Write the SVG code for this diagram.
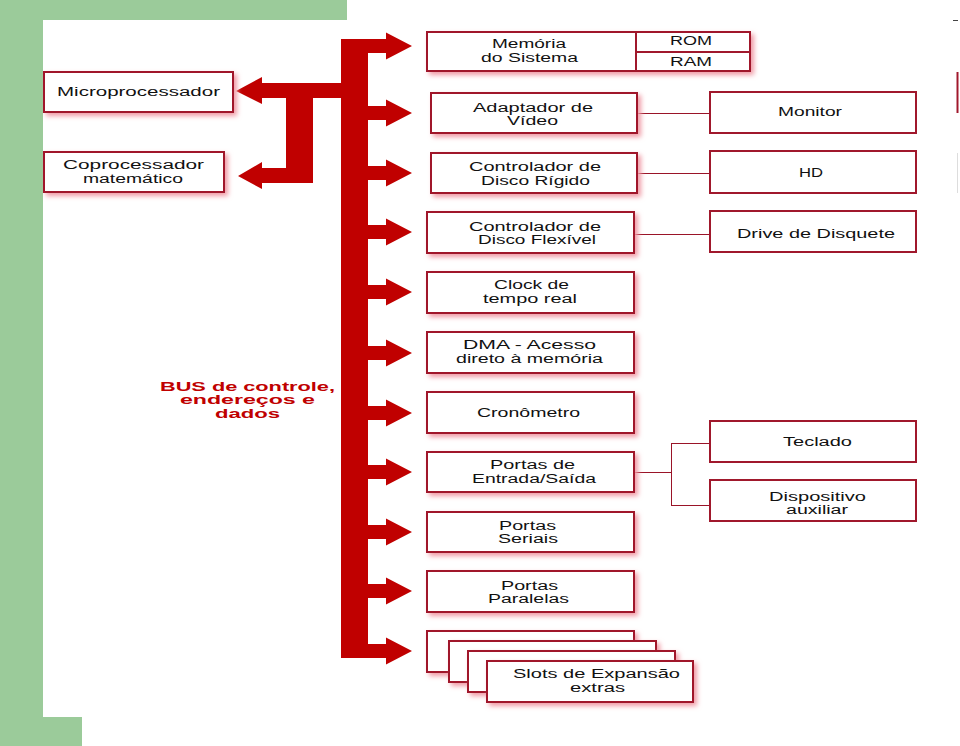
<svg xmlns="http://www.w3.org/2000/svg" xmlns:xlink="http://www.w3.org/1999/xlink" width="960" height="746" viewBox="0 0 960 746">
  <defs>
    <style>
      .box { fill: #ffffff; stroke: #A0182C; stroke-width: 2; }
      .glow { filter: url(#glow); }
      .t { font-family: "Liberation Sans", Arial, sans-serif; font-size: 12px; fill: #111111; }
      .bus { font-family: "Liberation Sans", Arial, sans-serif; font-size: 12px; font-weight: bold; fill: #C00000; }
      .wire { stroke: #9A1428; stroke-width: 1; fill: none; }
      .red { fill: #C00000; }
    </style>
    <filter id="glow" x="-10%" y="-25%" width="125%" height="160%">
      <feGaussianBlur in="SourceAlpha" stdDeviation="2.5"/>
      <feOffset dx="3" dy="3" result="b"/>
      <feFlood flood-color="#F09AA5" flood-opacity="1"/>
      <feComposite in2="b" operator="in" result="s"/>
      <feMerge><feMergeNode in="s"/><feMergeNode in="SourceGraphic"/></feMerge>
    </filter>
    <path id="rarrow" d="M0,-7 H18 V-13.5 L44,0 L18,13.5 V7 H0 Z"/>
  </defs>

  <!-- background -->
  <rect x="0" y="0" width="960" height="746" fill="#ffffff"/>
  <circle cx="42" cy="231" r="17" fill="#003A75"/>
  <rect x="0" y="0" width="347" height="20" fill="#9BCB9A"/>
  <rect x="0" y="0" width="43" height="746" fill="#9BCB9A"/>
  <rect x="0" y="717" width="82" height="29" fill="#9BCB9A"/>
  <rect x="43" y="20" width="917" height="697" fill="#ffffff"/>
  <line x1="953" y1="20.5" x2="958" y2="20.5" stroke="#444" stroke-width="1"/>
  <line x1="957.5" y1="72" x2="957.5" y2="113" stroke="#A0182C" stroke-width="2"/>
  <line x1="957.5" y1="153" x2="957.5" y2="193" stroke="#dddddd" stroke-width="1"/>

  <!-- connectors: bus and wires -->
  <g id="connectors">
    <g class="red">
      <rect x="341" y="39" width="27" height="619"/>
      <use xlink:href="#rarrow" href="#rarrow" x="368" y="46"/>
      <use xlink:href="#rarrow" href="#rarrow" x="368" y="113"/>
      <use xlink:href="#rarrow" href="#rarrow" x="368" y="173"/>
      <use xlink:href="#rarrow" href="#rarrow" x="368" y="232"/>
      <use xlink:href="#rarrow" href="#rarrow" x="368" y="292"/>
      <use xlink:href="#rarrow" href="#rarrow" x="368" y="353"/>
      <use xlink:href="#rarrow" href="#rarrow" x="368" y="413"/>
      <use xlink:href="#rarrow" href="#rarrow" x="368" y="472"/>
      <use xlink:href="#rarrow" href="#rarrow" x="368" y="532"/>
      <use xlink:href="#rarrow" href="#rarrow" x="368" y="591"/>
      <use xlink:href="#rarrow" href="#rarrow" x="368" y="651"/>
      <path d="M342,83 V98 H313 V183 H262 V189 L238,176 L262,162 V168 H286 V98 H262 V104 L236,91 L262,77 V83 Z"/>
    </g>
    <line class="wire" x1="637" y1="113.5" x2="710" y2="113.5"/>
    <line class="wire" x1="637" y1="173.5" x2="710" y2="173.5"/>
    <line class="wire" x1="634" y1="234.5" x2="710" y2="234.5"/>
    <line class="wire" x1="634" y1="472.5" x2="671.5" y2="472.5"/>
    <line class="wire" x1="671.5" y1="443" x2="671.5" y2="506"/>
    <line class="wire" x1="671" y1="443.5" x2="710" y2="443.5"/>
    <line class="wire" x1="671" y1="505.5" x2="710" y2="505.5"/>
  </g>

  <g id="bus-label">
    <text class="bus" x="160" y="391" textLength="175" lengthAdjust="spacingAndGlyphs">BUS de controle,</text>
    <text class="bus" x="180" y="404" textLength="135" lengthAdjust="spacingAndGlyphs">endereços e</text>
    <text class="bus" x="215" y="418" textLength="65" lengthAdjust="spacingAndGlyphs">dados</text>
  </g>

  <g id="microprocessador">
    <rect class="box glow" x="44" y="72" width="189" height="40"/>
    <text class="t" x="57" y="96" textLength="163" lengthAdjust="spacingAndGlyphs">Microprocessador</text>
  </g>
  <g id="coprocessador">
    <rect class="box glow" x="44" y="152" width="180" height="40"/>
    <text class="t" x="63" y="169" textLength="141" lengthAdjust="spacingAndGlyphs">Coprocessador</text>
    <text class="t" x="83" y="183" textLength="100" lengthAdjust="spacingAndGlyphs">matemático</text>
  </g>

  <g id="memoria">
    <rect class="box glow" x="427" y="32" width="323" height="39"/>
    <line x1="636" y1="32" x2="636" y2="71" stroke="#A0182C" stroke-width="2"/>
    <line x1="636" y1="52" x2="750" y2="52" stroke="#A0182C" stroke-width="2"/>
    <text class="t" x="492" y="48" textLength="74" lengthAdjust="spacingAndGlyphs">Memória</text>
    <text class="t" x="481" y="62" textLength="97" lengthAdjust="spacingAndGlyphs">do Sistema</text>
    <text class="t" x="670" y="45" textLength="42" lengthAdjust="spacingAndGlyphs">ROM</text>
    <text class="t" x="670" y="66" textLength="42" lengthAdjust="spacingAndGlyphs">RAM</text>
  </g>

  <g id="adaptador">
    <rect class="box glow" x="431" y="93" width="206" height="40"/>
    <text class="t" x="473" y="112" textLength="120" lengthAdjust="spacingAndGlyphs">Adaptador de</text>
    <text class="t" x="507" y="125" textLength="51" lengthAdjust="spacingAndGlyphs">Vídeo</text>
  </g>
  <g id="monitor">
    <rect class="box" x="710" y="92" width="206" height="41"/>
    <text class="t" x="778" y="116" textLength="64" lengthAdjust="spacingAndGlyphs">Monitor</text>
  </g>

  <g id="disco-rigido">
    <rect class="box glow" x="431" y="153" width="206" height="40"/>
    <text class="t" x="469" y="171" textLength="132" lengthAdjust="spacingAndGlyphs">Controlador de</text>
    <text class="t" x="481" y="185" textLength="109" lengthAdjust="spacingAndGlyphs">Disco Rígido</text>
  </g>
  <g id="hd">
    <rect class="box" x="710" y="151" width="206" height="42"/>
    <text class="t" x="799" y="177" textLength="24" lengthAdjust="spacingAndGlyphs">HD</text>
  </g>

  <g id="disco-flexivel">
    <rect class="box glow" x="427" y="212" width="207" height="41"/>
    <text class="t" x="469" y="231" textLength="132" lengthAdjust="spacingAndGlyphs">Controlador de</text>
    <text class="t" x="478" y="244" textLength="118" lengthAdjust="spacingAndGlyphs">Disco Flexível</text>
  </g>
  <g id="drive">
    <rect class="box" x="710" y="211" width="206" height="41"/>
    <text class="t" x="737" y="238" textLength="158" lengthAdjust="spacingAndGlyphs">Drive de Disquete</text>
  </g>

  <g id="clock">
    <rect class="box glow" x="427" y="272" width="207" height="41"/>
    <text class="t" x="494" y="289" textLength="75" lengthAdjust="spacingAndGlyphs">Clock de</text>
    <text class="t" x="483" y="303" textLength="94" lengthAdjust="spacingAndGlyphs">tempo real</text>
  </g>

  <g id="dma">
    <rect class="box glow" x="427" y="332" width="207" height="41"/>
    <text class="t" x="463" y="349" textLength="133" lengthAdjust="spacingAndGlyphs">DMA - Acesso</text>
    <text class="t" x="456" y="363" textLength="147" lengthAdjust="spacingAndGlyphs">direto à memória</text>
  </g>

  <g id="cronometro">
    <rect class="box glow" x="427" y="392" width="207" height="41"/>
    <text class="t" x="477" y="417" textLength="103" lengthAdjust="spacingAndGlyphs">Cronômetro</text>
  </g>

  <g id="portas-es">
    <rect class="box glow" x="427" y="452" width="207" height="40"/>
    <text class="t" x="490" y="469" textLength="85" lengthAdjust="spacingAndGlyphs">Portas de</text>
    <text class="t" x="472" y="483" textLength="124" lengthAdjust="spacingAndGlyphs">Entrada/Saída</text>
  </g>
  <g id="teclado">
    <rect class="box" x="710" y="421" width="206" height="41"/>
    <text class="t" x="783" y="446" textLength="69" lengthAdjust="spacingAndGlyphs">Teclado</text>
  </g>
  <g id="dispositivo">
    <rect class="box" x="710" y="480" width="206" height="41"/>
    <text class="t" x="769" y="501" textLength="97" lengthAdjust="spacingAndGlyphs">Dispositivo</text>
    <text class="t" x="786" y="514" textLength="62" lengthAdjust="spacingAndGlyphs">auxiliar</text>
  </g>

  <g id="seriais">
    <rect class="box glow" x="427" y="512" width="207" height="40"/>
    <text class="t" x="499" y="530" textLength="57" lengthAdjust="spacingAndGlyphs">Portas</text>
    <text class="t" x="498" y="543" textLength="60" lengthAdjust="spacingAndGlyphs">Seriais</text>
  </g>

  <g id="paralelas">
    <rect class="box glow" x="427" y="571" width="207" height="41"/>
    <text class="t" x="501" y="590" textLength="57" lengthAdjust="spacingAndGlyphs">Portas</text>
    <text class="t" x="488" y="603" textLength="81" lengthAdjust="spacingAndGlyphs">Paralelas</text>
  </g>

  <g id="slots">
    <rect class="box glow" x="427" y="631" width="207" height="41"/>
    <rect class="box glow" x="449" y="641" width="207" height="41"/>
    <rect class="box glow" x="468" y="651" width="207" height="41"/>
    <rect class="box glow" x="487" y="661" width="206" height="41"/>
    <text class="t" x="513" y="678" textLength="167" lengthAdjust="spacingAndGlyphs">Slots de Expansão</text>
    <text class="t" x="570" y="692" textLength="55" lengthAdjust="spacingAndGlyphs">extras</text>
  </g>
</svg>
